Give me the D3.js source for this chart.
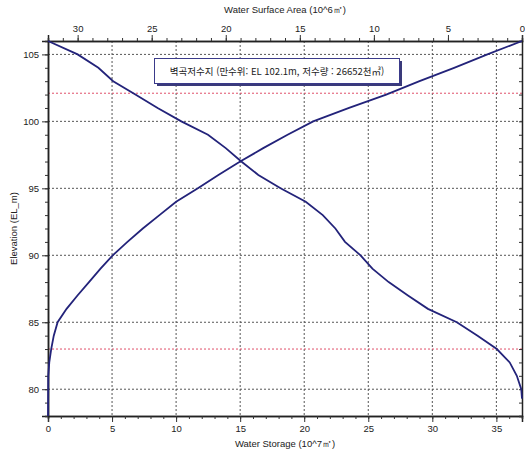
<!DOCTYPE html>
<html lang="ko">
<head>
<meta charset="UTF-8">
<title>Elevation - Storage - Area</title>
<style>
  body { margin: 0; background: #fff; }
  text { font-family: "Liberation Sans", Arial, sans-serif; fill: #222; }
  .kr { font-family: "Noto Sans CJK KR", sans-serif; }
</style>
</head>
<body>
<script src="https://cdn.jsdelivr.net/npm/d3@7"></script>
<script>
// elevation (EL m) vs water storage (10^7 m3, bottom axis)
var storElev = [78, 81, 82, 83, 84, 85, 86, 87, 88, 89, 90, 91, 92, 93, 94, 95, 96, 97, 98, 99, 100, 101, 102, 103, 104, 105, 106];
var storVal  = [0, 0.02, 0.1, 0.25, 0.45, 0.75, 1.45, 2.3, 3.2, 4.1, 5.05, 6.2, 7.4, 8.7, 10.0, 11.7, 13.3, 15.0, 16.8, 18.7, 20.7, 23.5, 26.4, 29.0, 31.7, 34.3, 37];

// elevation vs water surface area (10^6 m2, top axis, reversed)
var areaElev = [79.3, 80, 81, 82, 83, 84, 85, 86, 87, 88, 89, 90, 91, 92, 93, 94, 95, 96, 97, 98, 99, 100, 101, 102, 103, 104, 105, 106];
var areaVal  = [0, 0.05, 0.35, 0.83, 1.7, 3.0, 4.4, 6.35, 7.7, 9.0, 10.1, 10.9, 11.95, 12.6, 13.45, 14.6, 16.3, 17.8, 18.95, 20.0, 21.2, 23.0, 24.6, 26.1, 27.6, 28.6, 30.0, 32];

var storTicks = [0, 5, 10, 15, 20, 25, 30, 35];
var areaTicks = [0, 5, 10, 15, 20, 25, 30];
var elevTicks = [80, 85, 90, 95, 100, 105];
var refLevels = [102.1, 83]; // full water level, low water level
var legendText = "벽곡저수지 (만수위: EL 102.1m, 저수량 : 26652천㎥)";

var W = 525, H = 451;
var pL = 48, pR = 522, pT = 41, pB = 416;

var svg = d3.select("body").append("svg").attr("width", W).attr("height", H);

var x = d3.scaleLinear().domain([0, 37]).range([pL, pR]);     // storage
var xa = d3.scaleLinear().domain([32, 0]).range([pL, pR]);    // area
var y = d3.scaleLinear().domain([78, 106]).range([pB, pT]);   // elevation

// grid
var grid = svg.append("g");
grid.selectAll(".gx").data(storTicks.slice(1)).enter().append("line")
    .attr("x1", d => x(d)).attr("x2", d => x(d))
    .attr("y1", pT).attr("y2", pB)
    .attr("stroke", "#555").attr("stroke-width", 1).attr("stroke-dasharray", "2,2");
grid.selectAll(".gy").data(elevTicks).enter().append("line")
    .attr("x1", pL).attr("x2", pR)
    .attr("y1", d => y(d)).attr("y2", d => y(d))
    .attr("stroke", "#555").attr("stroke-width", 1).attr("stroke-dasharray", "2,2");
grid.selectAll(".gr").data(refLevels).enter().append("line")
    .attr("x1", pL).attr("x2", pR)
    .attr("y1", d => y(d)).attr("y2", d => y(d))
    .attr("stroke", "#e0506a").attr("stroke-width", 1).attr("stroke-dasharray", "2,2");

// axes
var minorStor = d3.range(0, 38, 1), minorArea = d3.range(0, 33, 1), minorElev = d3.range(78, 107, 1);

svg.append("g").attr("transform", "translate(0," + pB + ")")
    .call(d3.axisBottom(x).tickValues(storTicks).tickSize(6).tickPadding(3));
svg.append("g").attr("transform", "translate(0," + pB + ")")
    .call(d3.axisBottom(x).tickValues(minorStor).tickSize(3).tickFormat(""));

svg.append("g").attr("transform", "translate(0," + pT + ")")
    .call(d3.axisTop(xa).tickValues(areaTicks).tickSize(6).tickPadding(3));
svg.append("g").attr("transform", "translate(0," + pT + ")")
    .call(d3.axisTop(xa).tickValues(minorArea).tickSize(3).tickFormat(""));

svg.append("g").attr("transform", "translate(" + pL + ",0)")
    .call(d3.axisLeft(y).tickValues(elevTicks).tickSize(6).tickPadding(3));
svg.append("g").attr("transform", "translate(" + pL + ",0)")
    .call(d3.axisLeft(y).tickValues(minorElev).tickSize(3).tickFormat(""));

svg.append("g").attr("transform", "translate(" + pR + ",0)")
    .call(d3.axisLeft(y).tickValues(minorElev).tickSize(3).tickFormat(""));

svg.selectAll(".domain").attr("stroke", "#222").attr("stroke-width", 1.5);
svg.selectAll(".tick line").attr("stroke", "#333");
svg.selectAll(".tick text").attr("font-size", 9.5).attr("fill", "#333");

// curves
var line = d3.line().x(d => d[0]).y(d => d[1]);
var storPts = storElev.map((e, i) => [x(storVal[i]), y(e)]);
var areaPts = areaElev.map((e, i) => [xa(areaVal[i]), y(e)]);
svg.append("path").attr("d", line(storPts))
    .attr("fill", "none").attr("stroke", "#23237a").attr("stroke-width", 1.8);
svg.append("path").attr("d", line(areaPts))
    .attr("fill", "none").attr("stroke", "#23237a").attr("stroke-width", 1.8);

// legend box
var lg = svg.append("g");
lg.append("rect").attr("x", 157).attr("y", 61).attr("width", 245).attr("height", 25)
    .attr("fill", "#3a3a7a");
lg.append("rect").attr("x", 154.5).attr("y", 58.5).attr("width", 245).attr("height", 25)
    .attr("fill", "#fff").attr("stroke", "#3a3a8a").attr("stroke-width", 1);
lg.append("text").attr("class", "kr").attr("x", 277).attr("y", 75).attr("text-anchor", "middle")
    .attr("font-size", 9.5).attr("fill", "#222").text(legendText);

// titles
svg.append("text").attr("x", 285).attr("y", 13).attr("text-anchor", "middle")
    .attr("font-size", 9.5).text("Water Surface Area (10^6㎡)");
svg.append("text").attr("x", 285).attr("y", 447).attr("text-anchor", "middle")
    .attr("font-size", 9.5).text("Water Storage (10^7㎡)");
svg.append("text").attr("transform", "translate(17," + ((pT + pB) / 2) + ") rotate(-90)")
    .attr("text-anchor", "middle").attr("font-size", 9.5).text("Elevation (EL_m)");
</script>
</body>
</html>
